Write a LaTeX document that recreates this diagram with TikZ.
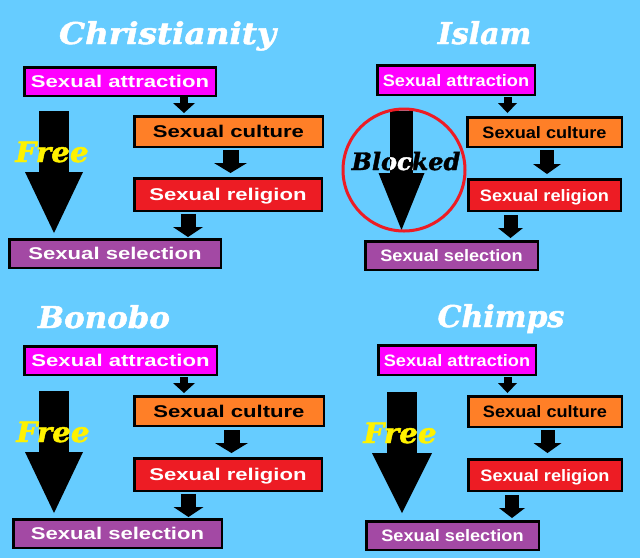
\documentclass[tikz,border=0pt]{standalone}
\usepackage{fontspec}
\setmainfont{Liberation Sans}
\newfontfamily\widefont[FakeStretch=1.3]{Liberation Sans}
\newfontfamily\slimfont[FakeStretch=1.1]{Liberation Sans}
\newfontfamily\fancyfont[FakeBold=1.5]{DejaVu Serif}
\usetikzlibrary{arrows.meta}
\definecolor{sky}{HTML}{66CCFF}
\definecolor{attcol}{HTML}{FF00FF}
\definecolor{culcol}{HTML}{FF7F27}
\definecolor{relcol}{HTML}{ED1C24}
\definecolor{selcol}{HTML}{A349A4}
\definecolor{freecol}{HTML}{FFF200}
\tikzset{
  box/.style={draw=black, line width=2.5pt, inner sep=0pt, text height=12pt, text depth=0pt},
  attbox/.style={box, fill=attcol, text=white},
  culbox/.style={box, fill=culcol, text=black},
  relbox/.style={box, fill=relcol, text=white},
  selbox/.style={box, fill=selcol, text=white},
  wide/.style={font=\widefont\bfseries\fontsize{17}{17}\selectfont},
  slim/.style={font=\slimfont\bfseries\fontsize{16.5}{16.5}\selectfont},
  title/.style={font=\fancyfont\bfseries\itshape\fontsize{30}{30}\selectfont, text=white, anchor=base, inner sep=0pt},
  freelabel/.style={font=\fancyfont\bfseries\itshape\fontsize{28}{28}\selectfont, text=freecol, anchor=base, inner sep=0pt},
  blocklabel/.style={font=\fancyfont\bfseries\itshape\fontsize{24}{24}\selectfont, anchor=base, inner sep=0pt},
  blockarrow/.style 2 args={line width=#1, -{Triangle[length=10pt,width=#2,line width=0pt]}},
  bigarrow/.style n args={3}{line width=#1, -{Triangle[length=#3,width=#2,line width=0pt]}}
}
\begin{document}
\begin{tikzpicture}[x=1pt,y=-1pt]
			%%%%% BACKGROUND %%%%%
			\fill[sky] (0,0) rectangle (640,558);
			
			%%%%% CHRISTIANITY %%%%%
			\node[title] (chr-title) at (167.5,44) {\scalebox{1.09}[1]{Christianity}};
			\node[attbox, wide, minimum width=191.5pt, minimum height=28.5pt] (chr-att) at (120,81.5) {Sexual attraction};
			\node[culbox, wide, minimum width=188.5pt, minimum height=30.5pt] (chr-cul) at (228.5,131.5) {Sexual culture};
			\node[relbox, wide, minimum width=187.5pt, minimum height=32.5pt] (chr-rel) at (228,194.5) {Sexual religion};
			\node[selbox, wide, minimum width=211.5pt, minimum height=28.5pt] (chr-sel) at (115,253.5) {Sexual selection};
			
			\draw[blockarrow={8pt}{22pt}, shorten >=2pt] ([xshift=64pt]chr-att.south) -- ([xshift=64pt]chr-att.south |- chr-cul.north);
			\draw[blockarrow={16pt}{33pt}, shorten <=2pt, shorten >=4pt] ([xshift=2pt]chr-cul.south) -- ([xshift=2pt]chr-cul.south |- chr-rel.north);
			\draw[blockarrow={15pt}{30pt}, shorten <=2pt, shorten >=1pt] ([xshift=-40pt]chr-rel.south) -- ([xshift=-40pt]chr-rel.south |- chr-sel.north);
			\draw[bigarrow={30pt}{58pt}{61pt}, shorten <=14pt, shorten >=5pt] ([xshift=-66pt]chr-att.south) -- ([xshift=-66pt]chr-att.south |- chr-sel.north);
			\node[freelabel] (chr-free) at (52,162) {\scalebox{1.05}[1]{Free}};
			
			%%%%% ISLAM %%%%%
			\node[title] (isl-title) at (484.5,44) {Islam};
			\node[attbox, slim, minimum width=157.5pt, minimum height=29.5pt] (isl-att) at (456,80) {Sexual attraction};
			\node[culbox, slim, minimum width=154.5pt, minimum height=29.5pt] (isl-cul) at (544.5,132) {Sexual culture};
			\node[relbox, slim, minimum width=152.5pt, minimum height=31.5pt] (isl-rel) at (544.5,195) {Sexual religion};
			\node[selbox, slim, minimum width=172.5pt, minimum height=28.5pt] (isl-sel) at (451.5,255.5) {Sexual selection};
			
			\draw[blockarrow={8pt}{19pt}, shorten <=1pt, shorten >=3pt] ([xshift=51.5pt]isl-att.south) -- ([xshift=51.5pt]isl-att.south |- isl-cul.north);
			\draw[blockarrow={14pt}{28pt}, shorten <=2pt, shorten >=4pt] ([xshift=2.5pt]isl-cul.south) -- ([xshift=2.5pt]isl-cul.south |- isl-rel.north);
			\draw[blockarrow={14pt}{25pt}, shorten <=3pt, shorten >=2pt] ([xshift=-34pt]isl-rel.south) -- ([xshift=-34pt]isl-rel.south |- isl-sel.north);
			\coordinate (isl-top) at ([xshift=-54.5pt,yshift=-15pt]isl-att.south);
			\draw[bigarrow={23pt}{46pt}{57pt}, shorten >=10pt] (isl-top) -- (isl-top |- isl-sel.north);
			\draw[relcol, line width=3pt] (404,170) circle (61);
			\node[blocklabel, text=black] (isl-block) at (406,170) {Blocked};
			\begin{scope}
				\clip ([xshift=-11.5pt]isl-top) rectangle ([xshift=11.5pt,yshift=-62pt]isl-top);
				\node[blocklabel, text=white] (isl-block-w) at (406,170) {Blocked};
			\end{scope}
			
			%%%%% BONOBO %%%%%
			\node[title] (bon-title) at (104,328) {\scalebox{1.03}[1]{Bonobo}};
			\node[attbox, wide, minimum width=192.5pt, minimum height=28.5pt] (bon-att) at (120.5,360.5) {Sexual attraction};
			\node[culbox, wide, minimum width=189.5pt, minimum height=29.5pt] (bon-cul) at (229,411) {Sexual culture};
			\node[relbox, wide, minimum width=187.5pt, minimum height=32.5pt] (bon-rel) at (228,474.5) {Sexual religion};
			\node[selbox, wide, minimum width=208.5pt, minimum height=28.5pt] (bon-sel) at (117.5,533.5) {Sexual selection};
			
			\draw[blockarrow={8pt}{22pt}, shorten <=1pt, shorten >=2pt] ([xshift=63.5pt]bon-att.south) -- ([xshift=63.5pt]bon-att.south |- bon-cul.north);
			\draw[blockarrow={16pt}{33pt}, shorten <=3pt, shorten >=4pt] ([xshift=2.5pt]bon-cul.south) -- ([xshift=2.5pt]bon-cul.south |- bon-rel.north);
			\draw[blockarrow={15pt}{30pt}, shorten <=2pt, shorten >=1pt] ([xshift=-39.5pt]bon-rel.south) -- ([xshift=-39.5pt]bon-rel.south |- bon-sel.north);
			\draw[bigarrow={30pt}{58pt}{61pt}, shorten <=15pt, shorten >=5pt] ([xshift=-66.5pt]bon-att.south) -- ([xshift=-66.5pt]bon-att.south |- bon-sel.north);
			\node[freelabel] (bon-free) at (53,442) {\scalebox{1.05}[1]{Free}};
			
			%%%%% CHIMPS %%%%%
			\node[title] (chm-title) at (501,327) {Chimps};
			\node[attbox, slim, minimum width=157.5pt, minimum height=29.5pt] (chm-att) at (457,360) {Sexual attraction};
			\node[culbox, slim, minimum width=153.5pt, minimum height=30.5pt] (chm-cul) at (545,411.5) {Sexual culture};
			\node[relbox, slim, minimum width=153.5pt, minimum height=31.5pt] (chm-rel) at (545,475) {Sexual religion};
			\node[selbox, slim, minimum width=172.5pt, minimum height=28.5pt] (chm-sel) at (452.5,535.5) {Sexual selection};
			
			\draw[blockarrow={8pt}{19pt}, shorten <=1pt, shorten >=2pt] ([xshift=50.5pt]chm-att.south) -- ([xshift=50.5pt]chm-att.south |- chm-cul.north);
			\draw[blockarrow={14pt}{28pt}, shorten <=2pt, shorten >=5pt] ([xshift=2.5pt]chm-cul.south) -- ([xshift=2.5pt]chm-cul.south |- chm-rel.north);
			\draw[blockarrow={14pt}{26pt}, shorten <=3pt, shorten >=2pt] ([xshift=-33pt]chm-rel.south) -- ([xshift=-33pt]chm-rel.south |- chm-sel.north);
			\draw[bigarrow={30pt}{60pt}{60pt}, shorten <=16pt, shorten >=7pt] ([xshift=-55pt]chm-att.south) -- ([xshift=-55pt]chm-att.south |- chm-sel.north);
			\node[freelabel] (chm-free) at (400,443) {\scalebox{1.05}[1]{Free}};
			
\end{tikzpicture}
\end{document}
